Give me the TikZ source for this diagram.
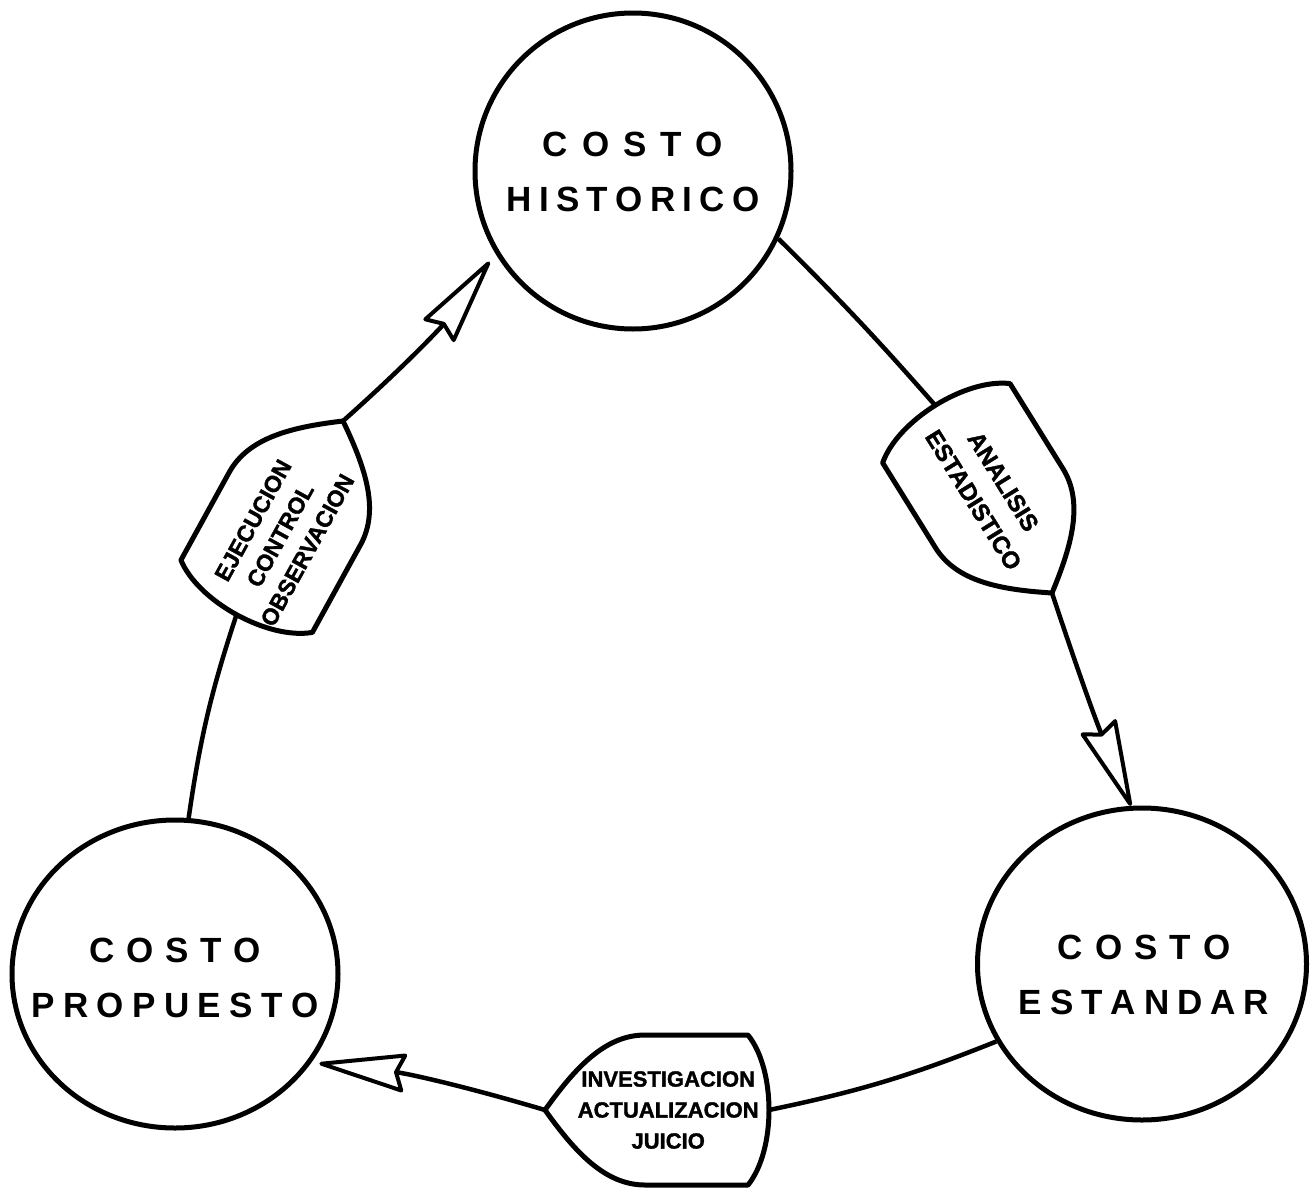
\documentclass[tikz,border=0pt]{standalone}
\usepackage{fontspec}
\setmainfont{Liberation Sans}
\newfontfamily\heavy{Liberation Sans}[FakeBold=1.5]
\usetikzlibrary{arrows.meta,shapes.geometric,calc}

\newcommand\gapped[2]{\def\gapsize{#1}\gappedaux#2\relax}
\def\gappedaux#1#2{#1\ifx\relax#2\else\hspace{\gapsize}\expandafter\gappedaux\expandafter#2\fi}

\begin{document}
\begin{tikzpicture}[x=1pt,y=-1pt,
  ring/.style={draw, line width=5pt, inner sep=0pt},
  ringtext/.style={inner sep=0pt, align=center,
    font=\fontsize{35pt}{55pt}\selectfont\bfseries},
  conn/.style={line width=4.5pt},
  shield/.style={draw, line width=5pt, fill=white, line join=round},
  slab/.style={align=center, inner sep=0pt},
  arr/.style={-{Stealth[length=95pt, width=40pt, inset=8pt, fill=white, line width=4pt, round]}},
]
\useasboundingbox (0,0) rectangle (1315,1189);

% circles
\node[ring, circle, minimum size=316pt] (hist) at (633,171) {};
\node[ring, ellipse, minimum width=326pt, minimum height=308pt] (prop) at (175,974) {};
\node[ring, ellipse, minimum width=329pt, minimum height=312pt] (est) at (1142,964) {};

\node[ringtext] (histtext) at ($(hist.center)+(0,1)$)
  {\gapped{14pt}{COSTO}\\\gapped{7.3pt}{HISTORICO}};
\node[ringtext] (proptext) at ($(prop.center)+(0,4)$)
  {\gapped{11.6pt}{COSTO}\\\gapped{8.4pt}{PROPUESTO}};
\node[ringtext] (esttext) at ($(est.center)+(2,11)$)
  {\gapped{12pt}{COSTO}\\\gapped{8pt}{ESTANDAR}};

% shields
\begin{scope}[shift={(343,421)}, rotate=241.2]
  \path[shield] (0,0) .. controls (30,42) and (60,75) .. (100,75) -- (200,75)
    .. controls (228,40) and (228,-40) .. (200,-75) -- (100,-75)
    .. controls (60,-75) and (30,-42) .. cycle;
  \coordinate (s1tip) at (0,0);
  \coordinate (s1base) at (221,0);
\end{scope}
\begin{scope}[shift={(1052,593)}, rotate=121.9]
  \path[shield] (0,0) .. controls (30,42) and (60,75) .. (100,75) -- (200,75)
    .. controls (228,40) and (228,-40) .. (200,-75) -- (100,-75)
    .. controls (60,-75) and (30,-42) .. cycle;
  \coordinate (s2tip) at (0,0);
  \coordinate (s2base) at (221,0);
\end{scope}
\begin{scope}[shift={(545,1110)}, rotate=0]
  \path[shield] (0,0) .. controls (30,42) and (60,75) .. (100,75) -- (203,75)
    .. controls (231,40) and (231,-40) .. (203,-75) -- (100,-75)
    .. controls (60,-75) and (30,-42) .. cycle;
  \coordinate (s3tip) at (0,0);
  \coordinate (s3base) at (224,0);
\end{scope}

\node[slab, rotate=61.2, font=\fontsize{23pt}{31pt}\selectfont\heavy\bfseries] (t1)
  at ($(s1tip)!0.59!(s1base)$) {EJECUCION\\CONTROL\\OBSERVACION};
\node[slab, rotate=-58.1, font=\fontsize{24pt}{35pt}\selectfont\heavy\bfseries] (t2)
  at ($(s2tip)!0.545!(s2base)$) {ANALISIS\\ESTADISTICO};
\node[slab, font=\fontsize{22pt}{31pt}\selectfont\heavy\bfseries] (t3)
  at ($(s3tip)!0.55!(s3base)$) {INVESTIGACION\\ACTUALIZACION\\JUICIO};

% connectors
\draw[conn] (prop.85) to[bend left=5] (s1base);
\draw[conn, arr, shorten >=10pt] (s1tip) to[bend right=6] (hist.211);
\draw[conn] (hist.-25) to[bend left=2] (s2base);
\draw[conn, arr] (s2tip) to[bend right=2] (est.94);
\draw[conn] (est.208) to[bend left=5] (s3base);
\draw[conn, arr, shorten >=8pt] (s3tip) to[bend right=5] (prop.-33);
\end{tikzpicture}
\end{document}
